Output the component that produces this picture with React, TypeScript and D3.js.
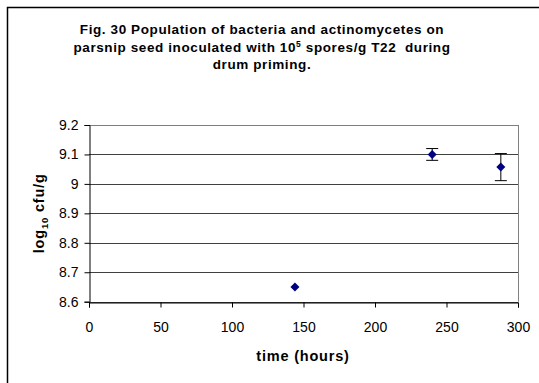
import React, { useEffect, useRef } from "react";
import * as d3 from "d3";

const hours = [144, 240, 288];
const logCfu = [8.65, 9.1, 9.057];
const errs = [0, 0.02, 0.046];
const xTicks = [0, 50, 100, 150, 200, 250, 300];
const yTicks = [8.6, 8.7, 8.8, 8.9, 9.0, 9.1, 9.2];
const titleLines = [
  "Fig. 30 Population of bacteria and actinomycetes on",
  "parsnip seed inoculated with 10|5| spores/g T22  during",
  "drum priming.",
];

const App = () => {
  const ref = useRef<SVGSVGElement>(null);

  useEffect(() => {
    const svg = d3.select(ref.current);
    svg.selectAll("*").remove();
    const font = "'Liberation Sans', Arial, sans-serif";

    // outer chart box (right/bottom edge off canvas)
    svg.append("rect")
      .attr("x", 7.5).attr("y", 7.5).attr("width", 560).attr("height", 400)
      .attr("fill", "#fff").attr("stroke", "#000").attr("stroke-width", 1.5);

    const left = 89, right = 518, top = 125, bottom = 301.7;
    const x = d3.scaleLinear().domain([0, 300]).range([left, right]);
    const y = d3.scaleLinear().domain([8.6, 9.2]).range([bottom, top]);

    // title
    const title = svg.append("g").attr("font-family", font)
      .attr("font-weight", "bold").attr("font-size", 13.5).attr("letter-spacing", 0.6)
      .attr("fill", "#000");
    titleLines.forEach((line, i) => {
      const t = title.append("text").attr("x", 262).attr("y", 34 + i * 17.5)
        .attr("text-anchor", "middle").attr("xml:space", "preserve");
      line.split("|").forEach((part, j) => {
        if (j === 1) {
          t.append("tspan").attr("font-size", 8.5).attr("dy", -5).text(part);
        } else if (j === 2) {
          t.append("tspan").attr("dy", 5).text(part);
        } else {
          t.append("tspan").text(part);
        }
      });
    });

    // gridlines
    svg.append("g").selectAll("line").data(yTicks).enter().append("line")
      .attr("x1", left).attr("x2", right)
      .attr("y1", d => Math.round(y(d)) + 0.5).attr("y2", d => Math.round(y(d)) + 0.5)
      .attr("stroke", d => (d === 9.2 ? "#808080" : "#000")).attr("stroke-width", 1)
      .attr("stroke-opacity", d => (d === 9.2 ? 1 : 0.75));

    // right border
    svg.append("line").attr("x1", right + 0.5).attr("x2", right + 0.5)
      .attr("y1", top).attr("y2", bottom).attr("stroke", "#808080");

    // axes
    const yAxis = svg.append("g").attr("transform", `translate(${left + 0.5},0)`)
      .call(d3.axisLeft(y).tickValues(yTicks).tickSize(5).tickFormat(d3.format("")));
    const xAxis = svg.append("g").attr("transform", `translate(0,${Math.round(bottom) + 0.5})`)
      .call(d3.axisBottom(x).tickValues(xTicks).tickSize(5));
    [yAxis, xAxis].forEach(a => {
      a.select(".domain").attr("stroke", "#000").attr("stroke-width", 1);
      a.selectAll(".tick line").attr("stroke", "#000");
      a.selectAll("text").attr("font-family", font).attr("font-size", 14).attr("fill", "#000");
    });
    yAxis.selectAll("text").attr("x", -11);
    xAxis.selectAll("text").attr("y", 20);

    // axis titles
    svg.append("text").attr("x", 303).attr("y", 361).attr("text-anchor", "middle")
      .attr("font-family", font).attr("font-weight", "bold").attr("font-size", 14.5)
      .attr("letter-spacing", 0.8).text("time (hours)");
    const yt = svg.append("text").attr("transform", `translate(44,${(top + bottom) / 2}) rotate(-90)`)
      .attr("text-anchor", "middle").attr("font-family", font)
      .attr("font-weight", "bold").attr("font-size", 14.5).attr("letter-spacing", 0.8);
    yt.append("tspan").text("log");
    yt.append("tspan").attr("font-size", 9.5).attr("dy", 3.5).text("10");
    yt.append("tspan").attr("dy", -3.5).text(" cfu/g");

    // error bars
    const data = hours.map((h, i) => ({ h, v: logCfu[i], e: errs[i] }));
    const eb = svg.append("g").attr("stroke", "#000").attr("stroke-width", 1);
    data.filter(d => d.e > 0).forEach(d => {
      const cx = x(d.h);
      eb.append("line").attr("x1", cx).attr("x2", cx).attr("y1", y(d.v + d.e)).attr("y2", y(d.v - d.e));
      [d.v + d.e, d.v - d.e].forEach(v => {
        eb.append("line").attr("x1", cx - 6).attr("x2", cx + 6).attr("y1", y(v)).attr("y2", y(v));
      });
    });

    // markers
    svg.append("g").selectAll("path").data(data).enter().append("path")
      .attr("transform", d => `translate(${x(d.h)},${y(d.v)})`)
      .attr("d", "M0,-4.5L4.5,0L0,4.5L-4.5,0Z")
      .attr("fill", "#000080");
  }, []);

  return <svg ref={ref} width={539} height={383} style={{ position: "absolute", left: 0, top: 0 }} />;
};

export default App;
